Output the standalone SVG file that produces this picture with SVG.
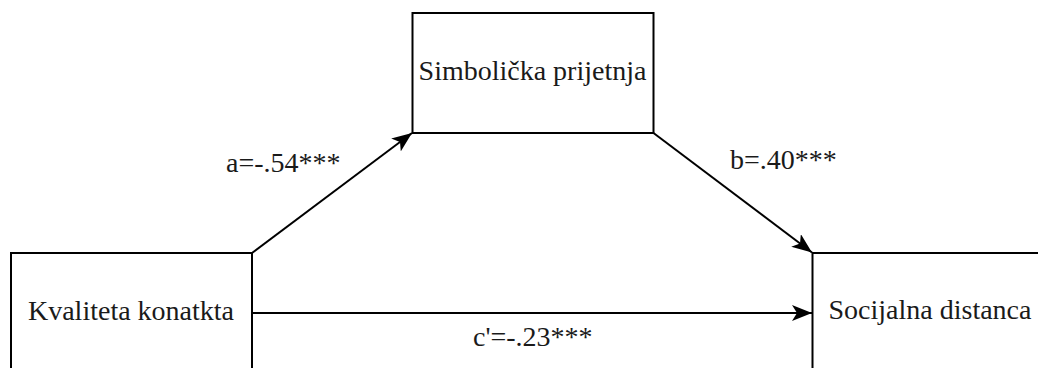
<svg xmlns="http://www.w3.org/2000/svg" width="1038" height="368" viewBox="0 0 1038 368">
<style>
.box{fill:#fff;stroke:#000;stroke-width:2}
.lbl{font-family:"Liberation Serif","Times New Roman",serif;font-size:28px;fill:#1a1a1a}
.edge{fill:none;stroke:#000;stroke-width:2}
</style>
<defs>
<marker id="arr" viewBox="0 0 20 16" refX="20" refY="8" markerWidth="20" markerHeight="16" markerUnits="userSpaceOnUse" orient="auto">
<path d="M0,0 L20,8 L0,16 L5,8 z" fill="#000"/>
</marker>
</defs>
<rect width="1038" height="368" fill="#fff"/>
<g id="node-kvaliteta">
<rect class="box" x="11" y="253" width="241" height="140"/>
<text class="lbl" x="131" y="320" text-anchor="middle">Kvaliteta konatkta</text>
</g>
<g id="node-simbolicka">
<rect class="box" x="412.5" y="13" width="241" height="120"/>
<text class="lbl" x="532.5" y="80" text-anchor="middle">Simbolička prijetnja</text>
</g>
<g id="node-socijalna">
<rect class="box" x="812.5" y="253" width="260" height="140"/>
<text class="lbl" x="930" y="319" text-anchor="middle">Socijalna distanca</text>
</g>
<g id="connectors">
<line class="edge" x1="252" y1="253" x2="412" y2="133" marker-end="url(#arr)"/>
<line class="edge" x1="653.5" y1="133" x2="812" y2="252.5" marker-end="url(#arr)"/>
<line class="edge" x1="252" y1="313" x2="812" y2="313" marker-end="url(#arr)"/>
<text class="lbl" x="226" y="172">a=-.54***</text>
<text class="lbl" x="730" y="169">b=.40***</text>
<text class="lbl" x="473" y="346">c'=-.23***</text>
</g>
</svg>
